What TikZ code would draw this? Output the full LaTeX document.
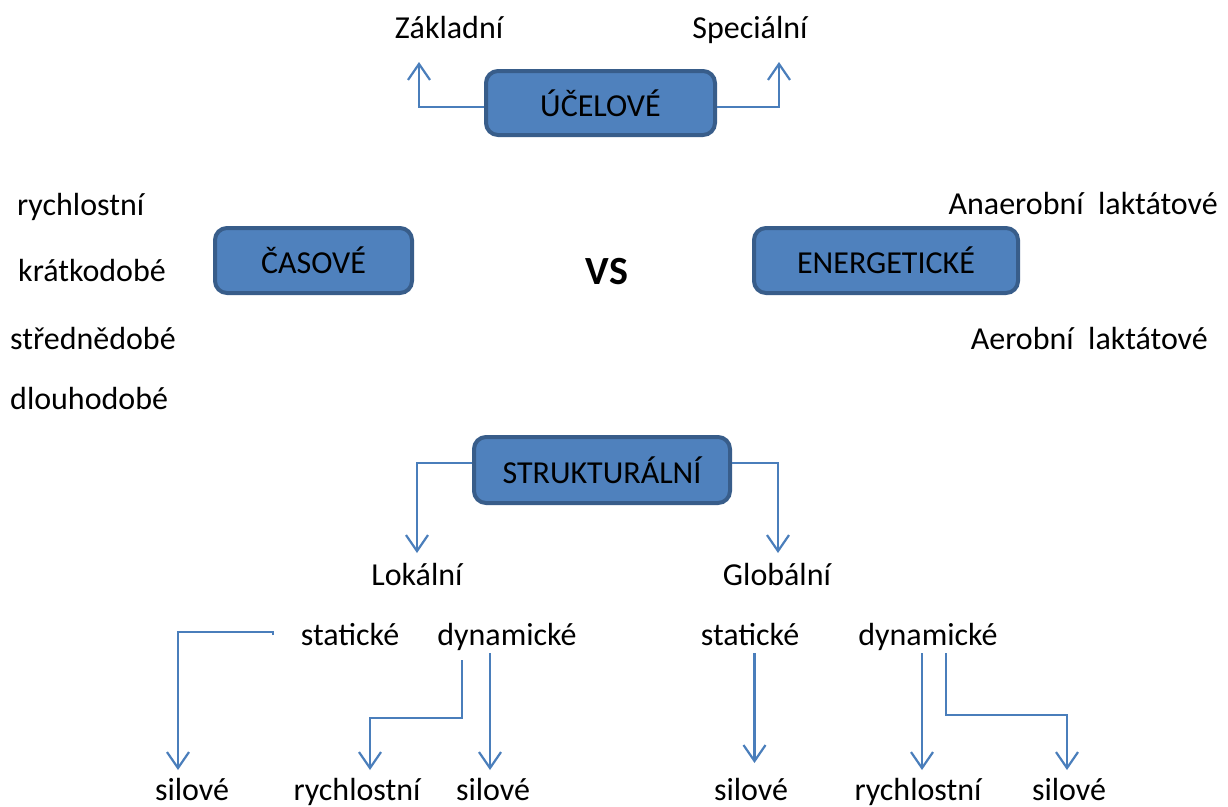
\documentclass[tikz,border=0pt]{standalone}
\usepackage{fontspec}
\setmainfont{Carlito}
\usetikzlibrary{arrows.meta}
\definecolor{boxfill}{HTML}{4F81BD}
\definecolor{boxdraw}{HTML}{385D8A}
\definecolor{arrc}{HTML}{4A7EBB}
\tikzset{
  box/.style={draw=boxdraw, fill=boxfill, line width=4pt, rounded corners=12pt, inner sep=0pt, align=center},
  lbl/.style={inner sep=0pt},
  arr/.style={draw=arrc, line width=2.2pt, -{Straight Barb[length=16pt,width=22pt,line width=2.2pt]}}
}
\begin{document}
\begin{tikzpicture}[x=1pt,y=-1pt,font=\fontsize{32}{38}\selectfont]
\useasboundingbox[fill=white] (0,0) rectangle (1228,806);

% boxes
\node[box, minimum width=229, minimum height=64] (uc) at (600.5,103) {ÚČELOVÉ};
\node[box, minimum width=197, minimum height=65] (cas) at (313.5,260.5) {ČASOVÉ};
\node[box, minimum width=264, minimum height=65] (ene) at (886,260.5) {ENERGETICKÉ};
\node[box, minimum width=256, minimum height=66] (str) at (602,470) {STRUKTURÁLNÍ};

% top labels
\node[lbl, anchor=base] (zak) at (449,38) {Základní};
\node[lbl, anchor=base] (spec) at (750,38) {Speciální};

\node[lbl, anchor=base, font=\fontsize{40}{48}\selectfont\bfseries] (vs) at (607,284) {VS};

% left list
\node[lbl, anchor=base west] (l1) at (17,215) {rychlostní};
\node[lbl, anchor=base west] (l2) at (18,281) {krátkodobé};
\node[lbl, anchor=base west] (l3) at (10,349) {střednědobé};
\node[lbl, anchor=base west] (l4) at (10,409) {dlouhodobé};

% right list
\node[lbl, anchor=base east] (r1) at (1218,214) {Anaerobní~~laktátové};
\node[lbl, anchor=base east] (r2) at (1208,349) {Aerobní~~laktátové};

% structural
\node[lbl, anchor=base] (lok) at (417,585) {Lokální};
\node[lbl, anchor=base] (glo) at (777,585) {Globální};

\node[lbl, anchor=base] (stL) at (350,645) {statické};
\node[lbl, anchor=base] (dyL) at (507,645) {dynamické};
\node[lbl, anchor=base] (stR) at (750,645) {statické};
\node[lbl, anchor=base] (dyR) at (928,645) {dynamické};

\node[lbl, anchor=base] (b1) at (192,800) {silové};
\node[lbl, anchor=base] (b2) at (357,800) {rychlostní};
\node[lbl, anchor=base] (b3) at (493,800) {silové};
\node[lbl, anchor=base] (b4) at (751,800) {silové};
\node[lbl, anchor=base] (b5) at (918,800) {rychlostní};
\node[lbl, anchor=base] (b6) at (1069,800) {silové};

% coordinates for free ends
\coordinate (zakT) at (419,62);
\coordinate (specT) at (779,62);
\coordinate (lokT) at (417,553);
\coordinate (gloT) at (778,553);
\coordinate (sL0) at (273,635);
\coordinate (b1T) at (178,770);
\coordinate (d1S) at (462,660);
\coordinate (d1M) at (462,718);
\coordinate (b2T) at (370,770);
\coordinate (d2S) at (490,653);
\coordinate (b3T) at (490,770);
\coordinate (sRS) at (754.5,653);
\coordinate (b4T) at (754.5,763);
\coordinate (d3S) at (922,653);
\coordinate (b5T) at (922,770);
\coordinate (d4S) at (946,653);
\coordinate (d4M) at (946,715);
\coordinate (b6T) at (1067,770);

% connectors
\draw[arr] ([yshift=-4pt]uc.west) -| (zakT);
\draw[arr] ([yshift=-4pt]uc.east) -| (specT);
\draw[arr] ([yshift=7pt]str.west) -| (lokT);
\draw[arr] ([yshift=7pt]str.east) -| (gloT);

\draw[arr] (sL0) -- ++(0,-3) -| (b1T);
\draw[arr] (d1S) -- (d1M) -| (b2T);
\draw[arr] (d2S) -- (b3T);
\draw[arr] (sRS) -- (b4T);
\draw[arr] (d3S) -- (b5T);
\draw[arr] (d4S) -- (d4M) -| (b6T);
\end{tikzpicture}
\end{document}
